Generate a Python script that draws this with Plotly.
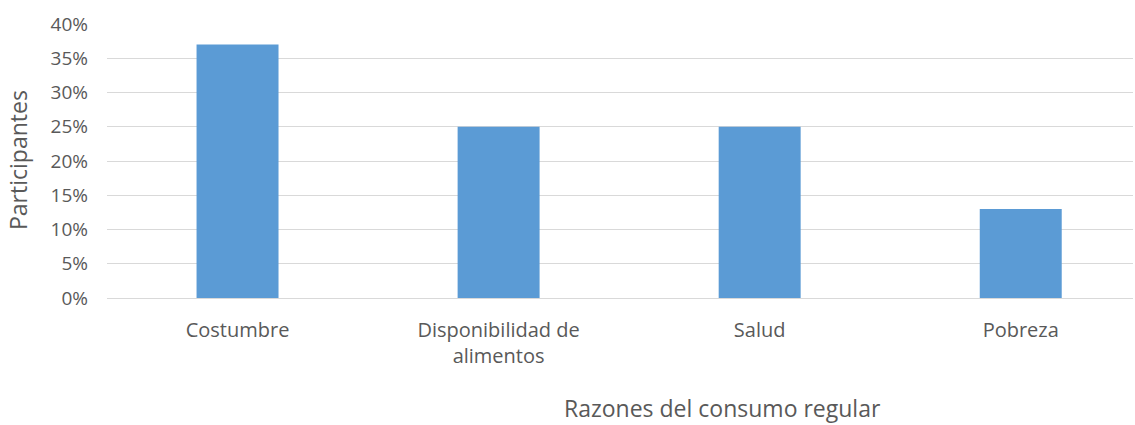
import plotly.graph_objects as go

categories = ["Costumbre", "Disponibilidad de<br>alimentos", "Salud", "Pobreza"]
values = [0.37, 0.25, 0.25, 0.13]
y_ticks = [0, 0.05, 0.10, 0.15, 0.20, 0.25, 0.30, 0.35, 0.40]

font = "Open Sans, Liberation Sans, sans-serif"
grey = "#595959"

W, H = 1135, 425
L, R, T, B = 107, 2, 24, 127
pw, ph = W - L - R, H - T - B

fig = go.Figure()
fig.add_trace(go.Bar(
    x=list(range(len(categories))),
    y=values,
    width=0.314,
    marker=dict(color="#5B9BD5", line=dict(width=0)),
    hoverinfo="skip",
))

fig.update_layout(
    width=W, height=H,
    margin=dict(l=L, r=R, t=T, b=B, autoexpand=False),
    paper_bgcolor="white", plot_bgcolor="white",
    showlegend=False,
    font=dict(family=font, color=grey, size=19),
    xaxis=dict(
        range=[-0.5, 3.43],
        tickmode="array",
        tickvals=list(range(len(categories))),
        ticktext=categories,
        showgrid=False, zeroline=False,
        showline=True, linecolor="#D9D9D9", linewidth=1,
        ticks="", tickfont=dict(size=20, color=grey),
        ticklabelstandoff=14,
    ),
    yaxis=dict(
        range=[0, 0.40],
        tickmode="array",
        tickvals=y_ticks,
        ticktext=[f"{int(round(v*100))}%" for v in y_ticks],
        showgrid=True, gridcolor="#D9D9D9", gridwidth=1,
        zeroline=False, showline=False, ticks="",
        tickfont=dict(size=19, color=grey),
        ticklabelstandoff=18,
    ),
    annotations=[
        dict(
            text="Razones del consumo regular",
            xref="paper", yref="paper",
            x=(722 - L) / pw, y=-(408 - (H - B)) / ph,
            xanchor="center", yanchor="middle",
            showarrow=False, font=dict(size=23, color=grey),
        ),
        dict(
            text="Participantes",
            xref="paper", yref="paper",
            x=(18 - L) / pw, y=((H - B) - 160) / ph,
            xanchor="center", yanchor="middle", textangle=-90,
            showarrow=False, font=dict(size=23, color=grey),
        ),
    ],
)

fig.write_html("out.html", config={"displayModeBar": False},
               post_script="document.body.style.margin='0';")
